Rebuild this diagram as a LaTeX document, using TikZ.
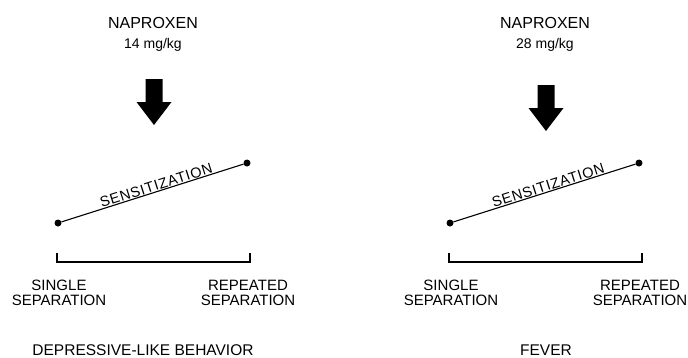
\documentclass[tikz,border=0pt]{standalone}
\usepackage{fontspec}
\setmainfont{Liberation Sans}
\newcommand\colorInk{black}
\newcommand\panelShift{392pt}
\newcommand\arrowShaft{8.5}
\newcommand\arrowHead{17.5}
% one panel: #1 shift, #2 name suffix, #3 dose, #4 arrow top, #5 title x, #6 title
\newcommand\drawPanel[6]{
	\begin{scope}[xshift=#1]
		\node[drug] (drug#2) at (153,28) {NAPROXEN};
		\node[dose] (dose#2) at (153,48) {#3 mg/kg};
		
		\coordinate (arrow#2) at (154,#4);
		\fill[\colorInk]
			(arrow#2) ++(-\arrowShaft,0) --
			++(2*\arrowShaft,0) --
			++(0,23) --
			++(\arrowHead-\arrowShaft,0) --
			++(-\arrowHead,23) --
			++(-\arrowHead,-23) --
			++(\arrowHead-\arrowShaft,0) --
			cycle;
		
		\node[dot] (single#2) at (58,223) {};
		\node[dot] (repeated#2) at (247,163) {};
		\draw[slope] (single#2) -- node[trend, pos=0.53] {SENSITIZATION} (repeated#2);
		
		\coordinate (bracketL#2) at (57,253);
		\coordinate (bracketR#2) at (250,253);
		\draw[bracket] (bracketL#2) -- ++(0,9) -| (bracketR#2);
		
		% base anchor sits on the last line
		\node[caption] (singleLabel#2) at (59,305) {SINGLE\\SEPARATION};
		\node[caption] (repeatedLabel#2) at (248,305) {REPEATED\\SEPARATION};
		
		\node[title] (title#2) at (#5,355) {#6};
	\end{scope}
}

\begin{document}
\begin{tikzpicture}[x=1pt, y=-1pt,
		drug/.style={font=\fontsize{16}{18}\selectfont, anchor=base, inner sep=0pt},
		dose/.style={font=\fontsize{14}{16}\selectfont, anchor=base, inner sep=0pt},
		dot/.style={circle, fill=\colorInk, inner sep=0pt, minimum size=7pt},
		slope/.style={draw=\colorInk, line width=1.1pt},
		trend/.style={sloped, above, inner sep=0.5pt,
			font=\fontsize{14.5}{16}\selectfont\addfontfeatures{LetterSpace=5}},
		bracket/.style={draw=\colorInk, line width=1.3pt},
		caption/.style={font=\fontsize{15}{15}\selectfont, align=center, anchor=base, inner sep=0pt},
		title/.style={font=\fontsize{15.5}{17}\selectfont, anchor=base, inner sep=0pt}]
	\useasboundingbox (0,0) rectangle (688,357);
	
	\drawPanel{0pt}{A}{14}{79}{143}{DEPRESSIVE-LIKE BEHAVIOR}
	\drawPanel{\panelShift}{B}{28}{85}{154}{FEVER}
\end{tikzpicture}
\end{document}
